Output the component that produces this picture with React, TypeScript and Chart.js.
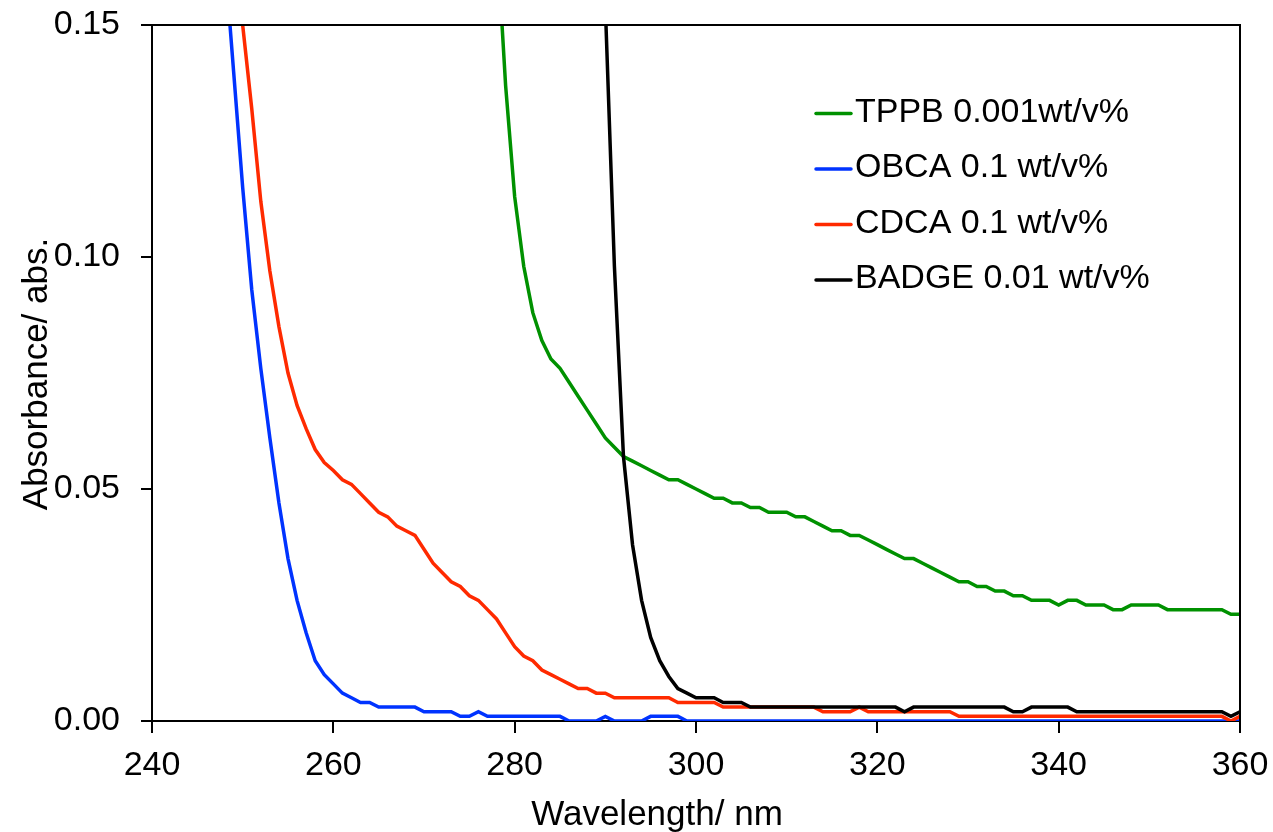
import React, { useEffect, useRef } from "react";
import { Chart, registerables } from "chart.js";

Chart.register(...registerables);

const FONT = "'Liberation Sans', Arial, Helvetica, sans-serif";

// Wavelength axis (nm) and absorbance axis
const xTickValues = [240, 260, 280, 300, 320, 340, 360];
const yTickValues = [0, 0.05, 0.1, 0.15];

const seriesLabels = ["TPPB 0.001wt/v%", "OBCA 0.1 wt/v%", "CDCA 0.1 wt/v%", "BADGE 0.01 wt/v%"];
const seriesColors = ["#009100", "#0033ff", "#ff2a00", "#000000"];

// TPPB 0.001 wt/v%, 1 nm steps starting at 278 nm
const tppbStart = 278;
const tppbValues = [
  0.170, 0.137, 0.113, 0.098, 0.088, 0.082, 0.078, 0.076, 0.073, 0.070,
  0.067, 0.064, 0.061, 0.059, 0.057, 0.056, 0.055, 0.054, 0.053, 0.052,
  0.052, 0.051, 0.050, 0.049, 0.048, 0.048, 0.047, 0.047, 0.046, 0.046,
  0.045, 0.045, 0.045, 0.044, 0.044, 0.043, 0.042, 0.041, 0.041, 0.040,
  0.040, 0.039, 0.038, 0.037, 0.036, 0.035, 0.035, 0.034, 0.033, 0.032,
  0.031, 0.030, 0.030, 0.029, 0.029, 0.028, 0.028, 0.027, 0.027, 0.026,
  0.026, 0.026, 0.025, 0.026, 0.026, 0.025, 0.025, 0.025, 0.024, 0.024,
  0.025, 0.025, 0.025, 0.025, 0.024, 0.024, 0.024, 0.024, 0.024, 0.024,
  0.024, 0.023, 0.023,
];

// OBCA 0.1 wt/v%, 1 nm steps starting at 248 nm
const obcaStart = 248;
const obcaValues = [
  0.165, 0.140, 0.115, 0.093, 0.076, 0.061, 0.047, 0.035, 0.026, 0.019,
  0.013, 0.010, 0.008, 0.006, 0.005, 0.004, 0.004, 0.003, 0.003, 0.003,
  0.003, 0.003, 0.002, 0.002, 0.002, 0.002, 0.001, 0.001, 0.002, 0.001,
  0.001, 0.001, 0.001, 0.001, 0.001, 0.001, 0.001, 0.001, 0, 0,
  0, 0, 0.001, 0, 0, 0, 0, 0.001, 0.001, 0.001,
  0.001, 0, 0, 0, 0, 0, 0, 0, 0, 0,
  0, 0, 0, 0, 0, 0, 0, 0, 0, 0,
  0, 0, 0, 0, 0, 0, 0, 0, 0, 0,
  0, 0, 0, 0, 0, 0, 0, 0, 0, 0,
  0, 0, 0, 0, 0, 0, 0, 0, 0, 0,
  0, 0, 0, 0, 0, 0, 0, 0, 0, 0,
  0, 0, 0,
];

// CDCA 0.1 wt/v%, 1 nm steps starting at 249 nm
const cdcaStart = 249;
const cdcaValues = [
  0.172, 0.150, 0.132, 0.112, 0.097, 0.085, 0.075, 0.068, 0.063, 0.0585,
  0.0557, 0.054, 0.052, 0.051, 0.049, 0.047, 0.045, 0.044, 0.042, 0.041,
  0.040, 0.037, 0.034, 0.032, 0.030, 0.029, 0.027, 0.026, 0.024, 0.022,
  0.019, 0.016, 0.014, 0.013, 0.011, 0.010, 0.009, 0.008, 0.007, 0.007,
  0.006, 0.006, 0.005, 0.005, 0.005, 0.005, 0.005, 0.005, 0.005, 0.004,
  0.004, 0.004, 0.004, 0.004, 0.003, 0.003, 0.003, 0.003, 0.003, 0.003,
  0.003, 0.003, 0.003, 0.003, 0.003, 0.002, 0.002, 0.002, 0.002, 0.003,
  0.002, 0.002, 0.002, 0.002, 0.002, 0.002, 0.002, 0.002, 0.002, 0.002,
  0.001, 0.001, 0.001, 0.001, 0.001, 0.001, 0.001, 0.001, 0.001, 0.001,
  0.001, 0.001, 0.001, 0.001, 0.001, 0.001, 0.001, 0.001, 0.001, 0.001,
  0.001, 0.001, 0.001, 0.001, 0.001, 0.001, 0.001, 0.001, 0.001, 0.001,
  0, 0.001,
];

// BADGE 0.01 wt/v%, 1 nm steps starting at 289 nm
const badgeStart = 289;
const badgeValues = [
  0.250, 0.154, 0.098, 0.057, 0.038, 0.026, 0.018, 0.013, 0.0096, 0.007,
  0.006, 0.005, 0.005, 0.005, 0.004, 0.004, 0.004, 0.003, 0.003, 0.003,
  0.003, 0.003, 0.003, 0.003, 0.003, 0.003, 0.003, 0.003, 0.003, 0.003,
  0.003, 0.003, 0.003, 0.003, 0.002, 0.003, 0.003, 0.003, 0.003, 0.003,
  0.003, 0.003, 0.003, 0.003, 0.003, 0.003, 0.002, 0.002, 0.003, 0.003,
  0.003, 0.003, 0.003, 0.002, 0.002, 0.002, 0.002, 0.002, 0.002, 0.002,
  0.002, 0.002, 0.002, 0.002, 0.002, 0.002, 0.002, 0.002, 0.002, 0.002,
  0.001, 0.002,
];

const toPoints = (start: number, values: number[]) =>
  values.map((y, i) => ({ x: start + i, y }));

const legendPlugin = {
  id: "insideLegend",
  afterDraw(chart: any) {
    const { ctx, chartArea } = chart;
    const x0 = chartArea.left + 664;
    const y0 = chartArea.top + 87.5;
    const gap = 55.5;
    ctx.save();
    ctx.font = `34px ${FONT}`;
    ctx.textBaseline = "middle";
    ctx.textAlign = "left";
    seriesLabels.forEach((label, i) => {
      const y = y0 + gap * i;
      ctx.strokeStyle = seriesColors[i];
      ctx.lineWidth = 3.5;
      ctx.lineCap = "round";
      ctx.beginPath();
      ctx.moveTo(x0, y + 1);
      ctx.lineTo(x0 + 35, y + 1);
      ctx.stroke();
      ctx.fillStyle = "#000";
      ctx.fillText(label, x0 + 39, y);
    });
    ctx.restore();
  },
};

const framePlugin = {
  id: "frameAndTitles",
  afterDraw(chart: any) {
    const { ctx, chartArea } = chart;
    ctx.save();
    ctx.strokeStyle = "#000";
    ctx.lineWidth = 2;
    ctx.beginPath();
    ctx.moveTo(chartArea.left, chartArea.top);
    ctx.lineTo(chartArea.right, chartArea.top);
    ctx.lineTo(chartArea.right, chartArea.bottom);
    ctx.stroke();

    ctx.fillStyle = "#000";
    ctx.font = `35px ${FONT}`;
    ctx.textAlign = "center";
    ctx.textBaseline = "alphabetic";
    ctx.fillText("Wavelength/ nm", chartArea.left + 505, chartArea.bottom + 104);

    ctx.translate(47, (chartArea.top + chartArea.bottom) / 2 + 1);
    ctx.rotate(-Math.PI / 2);
    ctx.fillText("Absorbance/ abs.", 0, 0);
    ctx.restore();
  },
};

export default function App() {
  const canvasRef = useRef<HTMLCanvasElement | null>(null);

  useEffect(() => {
    if (!canvasRef.current) return;
    const seriesPoints = [
      toPoints(tppbStart, tppbValues),
      toPoints(obcaStart, obcaValues),
      toPoints(cdcaStart, cdcaValues),
      toPoints(badgeStart, badgeValues),
    ];
    const drawOrder = [3, 2, 1, 0];
    const chart = new Chart(canvasRef.current, {
      type: "line",
      data: {
        datasets: seriesLabels.map((label, i) => ({
          label,
          data: seriesPoints[i],
          borderColor: seriesColors[i],
          backgroundColor: seriesColors[i],
          borderWidth: 3.5,
          pointRadius: 0,
          tension: 0,
          fill: false,
          order: drawOrder[i],
        })),
      },
      options: {
        animation: false,
        responsive: false,
        devicePixelRatio: 1,
        layout: { padding: { top: 25, right: 33, left: 0, bottom: 0 } },
        plugins: {
          legend: { display: false },
          tooltip: { enabled: false },
          title: { display: false },
        },
        scales: {
          x: {
            type: "linear",
            min: 240,
            max: 360,
            afterFit: (scale: any) => {
              scale.height = 111;
              scale.paddingLeft = 0;
              scale.paddingRight = 0;
            },
            afterBuildTicks: (scale: any) => {
              scale.ticks = xTickValues.map((v) => ({ value: v }));
            },
            ticks: {
              color: "#000",
              font: { family: FONT, size: 34 },
              padding: 12,
              maxRotation: 0,
              autoSkip: false,
            },
            grid: {
              display: true,
              drawOnChartArea: false,
              drawTicks: true,
              tickLength: 12,
              color: "#000",
              lineWidth: 2,
            },
            border: { display: true, color: "#000", width: 2 },
          },
          y: {
            type: "linear",
            min: 0,
            max: 0.15,
            afterFit: (scale: any) => {
              scale.width = 152;
              scale.paddingTop = 0;
              scale.paddingBottom = 0;
            },
            afterBuildTicks: (scale: any) => {
              scale.ticks = yTickValues.map((v) => ({ value: v }));
            },
            ticks: {
              color: "#000",
              font: { family: FONT, size: 34 },
              padding: 21,
              autoSkip: false,
              callback: (v: any) => Number(v).toFixed(2),
            },
            grid: {
              display: true,
              drawOnChartArea: false,
              drawTicks: true,
              tickLength: 11,
              color: "#000",
              lineWidth: 2,
            },
            border: { display: true, color: "#000", width: 2 },
          },
        },
      },
      plugins: [legendPlugin, framePlugin],
    });
    return () => chart.destroy();
  }, []);

  return (
    <div style={{ position: "fixed", left: 0, top: 0, width: 1273, height: 832, background: "#fff" }}>
      <canvas ref={canvasRef} width={1273} height={832} style={{ display: "block", width: 1273, height: 832 }} />
    </div>
  );
}
